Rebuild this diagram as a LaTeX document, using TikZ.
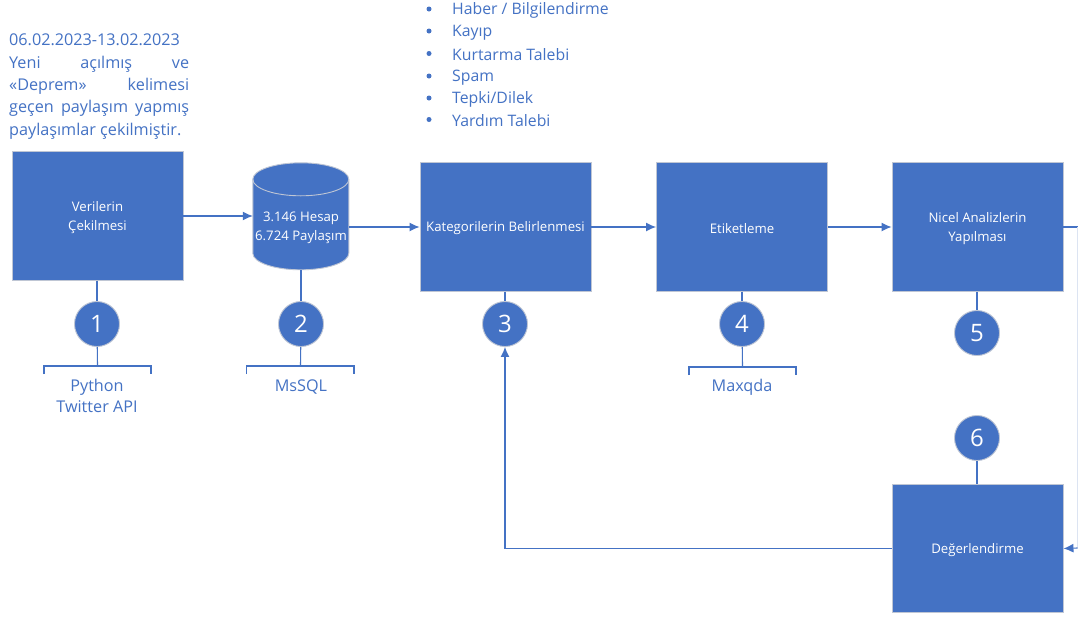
\documentclass[tikz,border=0pt]{standalone}
\usepackage{fontspec}
\setmainfont{Open Sans}
\usetikzlibrary{arrows.meta}
\definecolor{bluefill}{HTML}{4472C4}
\definecolor{edgegray}{HTML}{BFC6D4}
\definecolor{txtblue}{HTML}{4472C4}
\definecolor{faint}{HTML}{DCE4F2}
\newcommand\lowr{\rule{0pt}{13pt}}
\tikzset{
 x=1pt,y=-1pt,
 box/.style={draw=edgegray,line width=0.9pt,fill=bluefill,text=white,minimum width=171pt,minimum height=128.5pt,align=center,font=\fontsize{13.2}{18.5}\selectfont,inner sep=0pt},
 num/.style={circle,draw=edgegray,line width=0.9pt,fill=bluefill,text=white,minimum size=45pt,inner sep=0pt,font=\fontsize{24}{26}\selectfont},
 conn/.style={draw=bluefill,line width=1.1pt},
 arr/.style={conn,-{Latex[length=10pt,width=9pt]}},
 lab/.style={text=txtblue,align=center,font=\fontsize{16.2}{20.5}\selectfont,inner sep=0pt},
 bul/.style={text=txtblue,anchor=west,font=\fontsize{15.8}{18}\selectfont,inner sep=0pt},
 dot/.style={circle,fill=txtblue,minimum size=5pt,inner sep=0pt},
}
\begin{document}
\begin{tikzpicture}
\useasboundingbox[fill=white] (0,0) rectangle (1078,619);
% boxes
\node[box] (b1) at (97.5,216) {\lowr Verilerin\\Çekilmesi};
\node[box] (b3) at (505.5,227) {\lowr Kategorilerin Belirlenmesi};
\node[box] (b4) at (742,227) {\lowr Etiketleme};
\node[box] (b5) at (977.5,227) {\lowr Nicel Analizlerin\\Yapılması};
\node[box] (b6) at (977.5,548.5) {\lowr Değerlendirme};
% cylinder: an invisible node carries the name and the size, the outline is drawn on it
\node[minimum width=96pt,minimum height=107pt,inner sep=0pt] (cy) at (301,216.5) {};
\draw[edgegray,line width=0.9pt,fill=bluefill] (cy.north west) ++(0,16.5)
  arc[start angle=180,end angle=0,x radius=48,y radius=-16.5]
  -- ++(0,74) arc[start angle=0,end angle=-180,x radius=48,y radius=-16.5] -- cycle;
\draw[edgegray,line width=0.9pt] (cy.north west) ++(0,16.5)
  arc[start angle=180,end angle=360,x radius=48,y radius=-16.5];
\node[text=white,align=center,font=\fontsize{13.2}{18.5}\selectfont,inner sep=0pt] (cyt) at (301,228) {3.146 Hesap\\6.724 Paylaşım};
% circles
\node[num] (c1) at (97,324) {1};
\node[num] (c2) at (301,324) {2};
\node[num] (c3) at (505,324) {3};
\node[num] (c4) at (742,324) {4};
\node[num] (c5) at (977,333) {5};
\node[num] (c6) at (977,438) {6};
% bracket coordinates
\coordinate (k1) at (97.5,366);
\coordinate (k2) at (300.5,366);
\coordinate (k4) at (742.5,367);
\draw[conn] (44,374) -- (44,366) -- (151,366) -- (151,374);
\draw[conn] (246.5,374) -- (246.5,366) -- (354,366) -- (354,374);
\draw[conn] (689,375) -- (689,367) -- (796,367) -- (796,375);
\draw[conn] (c1) -- (k1);
\draw[conn] (c2) -- (k2);
\draw[conn] (c4) -- (k4);
\draw[conn] (b1.south -| c1) -- (c1);
\draw[conn] (cy.south -| c2) -- (c2);
\draw[conn] (b3.south -| c3) -- (c3);
\draw[conn] (b4.south -| c4) -- (c4);
\draw[conn] (b5.south -| c5) -- (c5);
\draw[conn] (b6.north -| c6) -- (c6);
% arrows
\draw[arr] (b1.east) -- (cy.west |- b1.east);
\draw[arr] (cy.east |- b3.west) -- (b3.west);
\draw[arr] (b3.east) -- (b4.west);
\draw[arr] (b4.east) -- (b5.west);
\coordinate (rt) at (1078,227);
\coordinate (rb) at (1077.5,548);
\draw[conn] (b5.east) -- (rt);
\draw[draw=faint,line width=1.1pt] (rt -| rb) -- (rb);
\draw[arr] (rb) -- (b6.east);
\draw[arr] (b6.west) -| (c3.south);
% labels
\node[lab] (l1) at (97,396) {Python\\Twitter API};
\node[lab] (l2) at (301,387) {MsSQL};
\node[lab] (l4) at (742,387) {Maxqda};
% top text
\node[text=txtblue,anchor=west,inner sep=0pt,font=\fontsize{16.2}{22.3}\selectfont,align=left] (desc) at (9,86.5) {06.02.2023-13.02.2023\\
\hbox to 180pt{Yeni\hfill açılmış\hfill ve}\\
\hbox to 180pt{«Deprem»\hfill kelimesi}\\
\hbox to 180pt{geçen\hfill paylaşım\hfill yapmış}\\
paylaşımlar çekilmiştir.};
% bullets
\foreach \n/\yy/\t in {a/10.5/{Haber / Bilgilendirme},b/32.5/Kayıp,c/55/Kurtarma Talebi,d/77.5/Spam,e/99.5/{Tepki/Dilek},f/121/Yardım Talebi}{
 \node[dot] (d\n) at (429,\yy-1.5) {};
 \node[bul] (t\n) at (452,\yy) {\t};
}
\end{tikzpicture}
\end{document}
